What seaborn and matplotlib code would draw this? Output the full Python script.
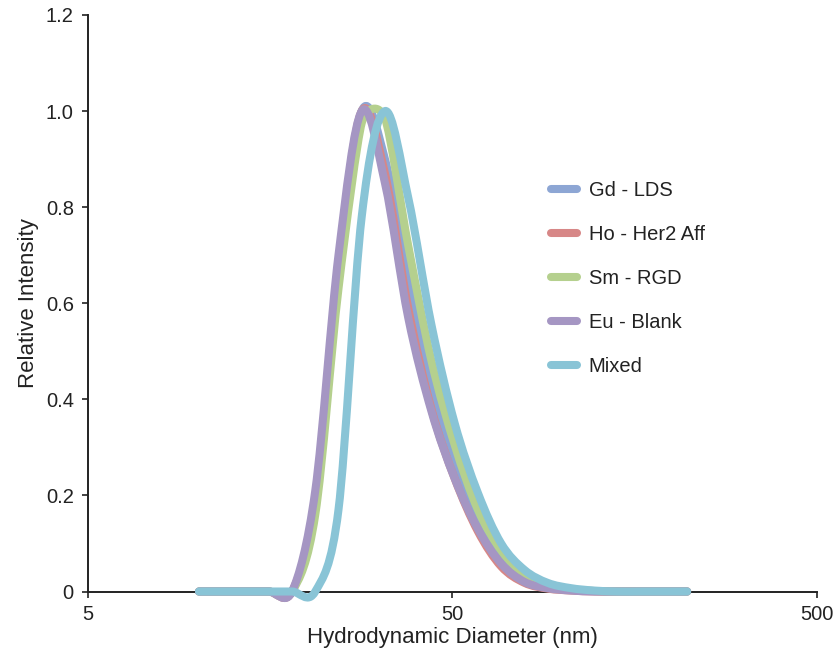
import matplotlib
matplotlib.use("Agg")
import matplotlib.pyplot as plt
from matplotlib.path import Path
from matplotlib.patches import PathPatch
from matplotlib.lines import Line2D
import numpy as np
import seaborn as sns

# DLS size bins (nm) and normalised intensity per sample
diameter_nm = [10.1, 11.7, 13.54, 15.69, 18.17, 21.04, 24.36, 28.21, 32.67, 37.84,
               43.82, 50.75, 58.77, 68.06, 78.82, 91.28, 105.7, 122.4, 141.8,
               164.2, 190.1, 220.2]

gd_lds = [0, 0, 0, 0, 0, 0.18, 0.66, 1.00, 0.90, 0.64, 0.43, 0.28, 0.155, 0.075,
          0.032, 0.012, 0.004, 0.001, 0, 0, 0, 0]
ho_her2 = [0, 0, 0, 0, 0, 0.19, 0.68, 1.00, 0.87, 0.59, 0.38, 0.235, 0.125, 0.052,
           0.018, 0.006, 0.002, 0, 0, 0, 0, 0]
sm_rgd = [0, 0, 0, 0, 0, 0.16, 0.63, 0.975, 0.985, 0.72, 0.48, 0.305, 0.17, 0.085,
          0.036, 0.014, 0.005, 0.001, 0, 0, 0, 0]
eu_blank = [0, 0, 0, 0, 0, 0.21, 0.70, 1.00, 0.85, 0.57, 0.375, 0.235, 0.13, 0.058,
            0.02, 0.007, 0.002, 0, 0, 0, 0, 0]
mixed = [0, 0, 0, 0, 0, 0, 0.17, 0.78, 1.00, 0.82, 0.555, 0.35, 0.205, 0.10,
         0.045, 0.018, 0.007, 0.002, 0, 0, 0, 0]

sample_names = ["Gd - LDS", "Ho - Her2 Aff", "Sm - RGD", "Eu - Blank", "Mixed"]
sample_values = [gd_lds, ho_her2, sm_rgd, eu_blank, mixed]
sample_colors = ["#8DA6D4", "#D78787", "#B5D08E", "#A596C3", "#89C4D6"]

x_ticks = [5, 50, 500]
y_ticks = [0, 0.2, 0.4, 0.6, 0.8, 1.0, 1.2]
y_tick_labels = ["0", "0.2", "0.4", "0.6", "0.8", "1.0", "1.2"]

sns.set_theme(style="ticks")
plt.rcParams["font.family"] = ["Liberation Sans", "DejaVu Sans"]

LW = 5.8

fig = plt.figure(figsize=(8.38, 6.51), dpi=100)
ax = fig.add_axes([87.7 / 838, (651 - 591.5) / 651, (817 - 87.7) / 838, (591.5 - 15) / 651])

for name, values, color in zip(sample_names, sample_values, sample_colors):
    sns.lineplot(x=diameter_nm, y=values, color=color, lw=LW, ax=ax, legend=False)

ax.set_xscale("log")
ax.set_xlim(5, 500)
ax.set_ylim(0, 1.2)


def smoothed_path(line, limit=0.7):
    """Spreadsheet-style smoothed line: Catmull-Rom Bezier segments through the
    points on screen; each point's tangent arm is capped by its shorter
    neighbouring segment so the curve stays smooth without large overshoot."""
    pts = ax.transData.transform(line.get_xydata())
    n = len(pts)
    ext = np.vstack([pts[0], pts, pts[-1]])
    seg = np.hypot(*(np.diff(pts, axis=0).T))
    arms = []
    for i in range(n):
        a = (ext[i + 2] - ext[i]) / 6.0
        m = np.hypot(*a)
        near = [seg[j] for j in (i - 1, i) if 0 <= j < n - 1]
        cap = limit * min(near)
        if m > cap and m > 0:
            a = a * cap / m
        arms.append(a)
    verts = [pts[0]]
    codes = [Path.MOVETO]
    for i in range(n - 1):
        verts += [pts[i] + arms[i], pts[i + 1] - arms[i + 1], pts[i + 1]]
        codes += [Path.CURVE4, Path.CURVE4, Path.CURVE4]
    data_verts = ax.transData.inverted().transform(np.array(verts))
    return Path(data_verts, codes)


for k, line in enumerate(list(ax.lines)):
    patch = PathPatch(smoothed_path(line), facecolor="none", edgecolor=line.get_color(),
                      lw=LW, capstyle="round", joinstyle="round", zorder=3 + k,
                      clip_on=False, transform=ax.transData)
    ax.add_patch(patch)
    line.remove()

ax.set_xticks(x_ticks)
ax.set_xticklabels([str(t) for t in x_ticks])
ax.xaxis.set_minor_locator(matplotlib.ticker.NullLocator())
ax.set_yticks(y_ticks)
ax.set_yticklabels(y_tick_labels)
ax.tick_params(axis="both", direction="out", length=4, width=1.2, color="#222222",
               labelsize=14.5, labelcolor="#222222", pad=6)
for side in ("left", "bottom"):
    ax.spines[side].set_linewidth(1.4)
    ax.spines[side].set_color("#222222")
sns.despine(ax=ax)

ax.set_xlabel("Hydrodynamic Diameter (nm)", fontsize=16, color="#222222", labelpad=2)
ax.set_ylabel("Relative Intensity", fontsize=16, color="#222222", labelpad=5)

handles = [Line2D([0], [0], color=c, lw=LW, solid_capstyle="round") for c in sample_colors]
ax.legend(handles, sample_names, loc="upper left", bbox_to_anchor=(551 / 838, (651 - 181) / 651),
          bbox_transform=fig.transFigure, frameon=False, fontsize=14.5, handlelength=1.27,
          handletextpad=0.6, labelspacing=1.24, borderpad=0, borderaxespad=0,
          labelcolor="#222222")

fig.savefig("out.png", dpi=100)
